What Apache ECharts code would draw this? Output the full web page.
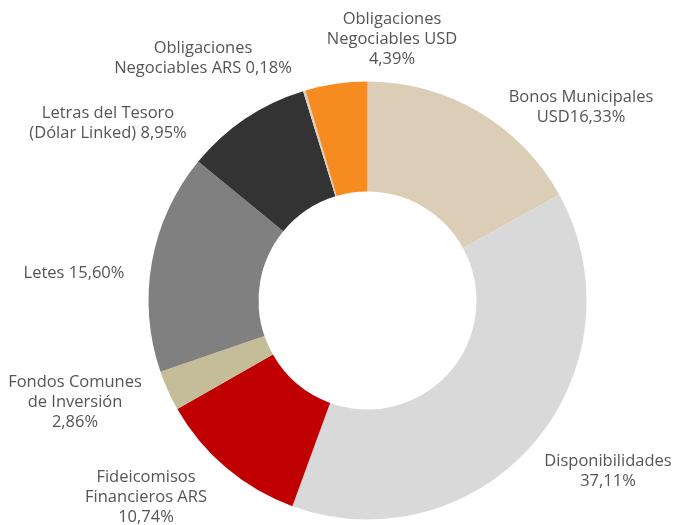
<!DOCTYPE html>
<html>
<head>
<meta charset="utf-8">
<script src="https://cdn.jsdelivr.net/npm/echarts@6/dist/echarts.min.js"></script>
<style>
  html, body { margin: 0; padding: 0; background: #fff; }
  #chart { width: 674px; height: 525px; }
</style>
</head>
<body>
<div id="chart"></div>
<script>
// Portfolio composition, clockwise from 12 o'clock
const categories = [
  'Bonos Municipales\nUSD',
  'Disponibilidades',
  'Fideicomisos\nFinancieros ARS',
  'Fondos Comunes\nde Inversión',
  'Letes',
  'Letras del Tesoro\n(Dólar Linked)',
  'Obligaciones\nNegociables ARS',
  'Obligaciones\nNegociables USD'
];
const shares = [16.33, 37.11, 10.74, 2.86, 15.60, 8.95, 0.18, 4.39];
// how the percentage follows each name in its label
const joiners = ['', '\n', '\n', '\n', ' ', ' ', ' ', '\n'];
const sliceColors = ['#dccdb7', '#d9d9d9', '#c00000', '#c5bd98', '#808080', '#333333', '#d9d0bd', '#f68b1f'];

// centre point of each label block, in pixels
const labelAnchors = [
  [581, 107], [608, 471], [146, 497], [75, 402],
  [74, 273], [108, 123], [203, 58], [392, 39]
];

const fmt = v => v.toFixed(2).replace('.', ',') + '%';

const chart = echarts.init(document.getElementById('chart'), null, { renderer: 'canvas' });
chart.setOption({
  animation: false,
  backgroundColor: '#ffffff',
  series: [{
    type: 'pie',
    center: [367.5, 300.5],
    radius: [109, 219],
    startAngle: 90,
    clockwise: true,
    avoidLabelOverlap: false,
    itemStyle: { borderWidth: 0 },
    label: {
      show: true,
      position: 'outside',
      formatter: p => categories[p.dataIndex] + joiners[p.dataIndex] + fmt(p.value),
      fontFamily: '"Open Sans", sans-serif',
      fontSize: 16.5,
      lineHeight: 20,
      color: '#555555',
      align: 'center'
    },
    labelLine: { show: false },
    labelLayout: p => ({
      x: labelAnchors[p.dataIndex][0],
      y: labelAnchors[p.dataIndex][1],
      align: 'center',
      verticalAlign: 'middle'
    }),
    emphasis: { disabled: true },
    data: shares.map((v, i) => ({
      name: categories[i],
      value: v,
      itemStyle: { color: sliceColors[i] }
    }))
  }]
});
</script>
</body>
</html>
